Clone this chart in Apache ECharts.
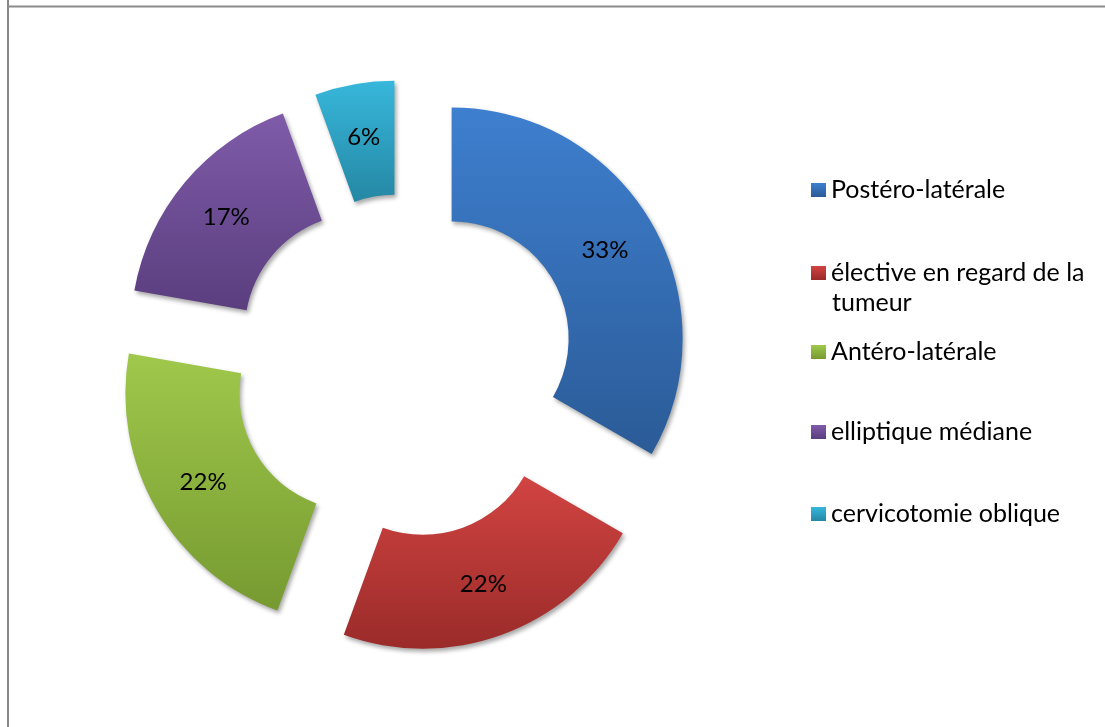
<!DOCTYPE html>
<html>
<head>
<meta charset="utf-8">
<script src="https://cdn.jsdelivr.net/npm/echarts@6/dist/echarts.min.js"></script>
<style>
  html, body { margin: 0; padding: 0; background: #ffffff; }
  #chart { width: 1105px; height: 727px; }
</style>
</head>
<body>
<div id="chart"></div>
<script>
// Voies d'abord chirurgical (effectifs)
const categories = [
  'Postéro-latérale',
  'élective en regard de la tumeur',
  'Antéro-latérale',
  'elliptique médiane',
  'cervicotomie oblique'
];
const counts = [6, 4, 4, 3, 1];
// legend wording, split where the long entry wraps
const legendFirstLine = [
  'Postéro-latérale',
  'élective en regard de la',
  'Antéro-latérale',
  'elliptique médiane',
  'cervicotomie oblique'
];
const legendSecondLine = ['', 'tumeur', '', '', ''];

// slice colours: light at the top of each slice, darker at the bottom
const colorTop = ['#3e7fcf', '#d14442', '#a0c84c', '#7f5ba9', '#37b7db'];
const colorBottom = ['#2b5b97', '#9a2b29', '#769a30', '#5a3e7e', '#2587a4'];

const FONT = 'Lato, "Open Sans", sans-serif';
const LEGEND_FONT_SIZE = 25;
const LINE_H = 30;

function grad(i) {
  return new echarts.graphic.LinearGradient(0, 0, 0, 1, [
    { offset: 0, color: colorTop[i] },
    { offset: 1, color: colorBottom[i] }
  ]);
}

// vertical centre of each legend row
const legendRowCenter = [190, 273, 352, 432, 514];
const LEGEND_LEFT = 811;
const TEXT_LEFT = 832;

const legends = categories.map((name, i) => ({
  left: LEGEND_LEFT,
  top: legendRowCenter[i] - LINE_H / 2,
  orient: 'vertical',
  selectedMode: false,
  icon: 'rect',
  itemWidth: 15,
  itemHeight: 14,
  itemGap: 0,
  padding: 0,
  data: [name],
  formatter: () => legendFirstLine[i],
  textStyle: {
    fontFamily: FONT,
    fontSize: LEGEND_FONT_SIZE,
    color: '#000000',
    lineHeight: LINE_H
  }
}));

// continuation lines of wrapped legend entries
const wrapTexts = [];
legendSecondLine.forEach((t, i) => {
  if (!t) return;
  wrapTexts.push({
    type: 'text',
    left: TEXT_LEFT,
    top: legendRowCenter[i] + LINE_H - LINE_H / 2,
    style: {
      text: t,
      font: LEGEND_FONT_SIZE + 'px ' + FONT,
      fill: '#000000',
      lineHeight: LINE_H
    }
  });
});

const chart = echarts.init(document.getElementById('chart'), null, { renderer: 'canvas' });
chart.setOption({
  backgroundColor: '#ffffff',
  animation: false,
  legend: legends,
  graphic: [
    { type: 'line', shape: { x1: 8, y1: 0, x2: 8, y2: 727 }, style: { stroke: '#8a8a8a', lineWidth: 2 } },
    { type: 'line', shape: { x1: 8, y1: 6.5, x2: 1105, y2: 6.5 }, style: { stroke: '#8a8a8a', lineWidth: 2 } }
  ].concat(wrapTexts),
  series: [{
    type: 'pie',
    center: [404, 366],
    radius: [117, 231],
    startAngle: 90,
    clockwise: true,
    selectedMode: 'multiple',
    selectedOffset: 55,
    avoidLabelOverlap: false,
    label: {
      show: true,
      position: 'inside',
      formatter: (p) => Math.round(p.percent) + '%',
      fontFamily: FONT,
      fontSize: 24,
      color: '#000000'
    },
    labelLine: { show: false },
    emphasis: { disabled: true },
    itemStyle: {
      shadowBlur: 4,
      shadowOffsetX: 2,
      shadowOffsetY: 3,
      shadowColor: 'rgba(0,0,0,0.35)'
    },
    data: categories.map((name, i) => ({
      name: name,
      value: counts[i],
      selected: true,
      itemStyle: { color: grad(i) },
      select: { itemStyle: { color: grad(i), borderWidth: 0 } }
    }))
  }]
});
</script>
</body>
</html>
